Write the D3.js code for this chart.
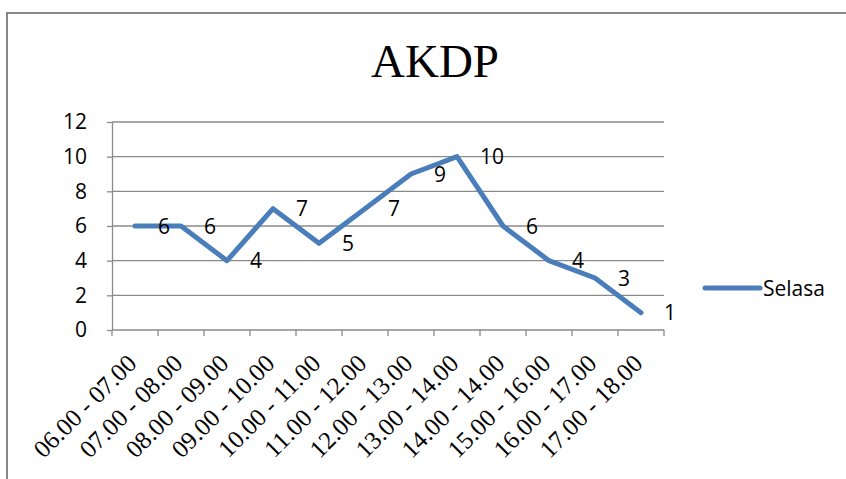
<!DOCTYPE html>
<html>
<head>
<meta charset="utf-8">
<script src="https://cdn.jsdelivr.net/npm/d3@7"></script>
<style>
  html, body { margin: 0; padding: 0; background: #fff; }
  svg { display: block; }
</style>
</head>
<body>
<svg id="chart" width="846" height="479"></svg>
<script>
// Hourly counts for the AKDP series (Selasa)
const categories = [
  "06.00 - 07.00", "07.00 - 08.00", "08.00 - 09.00", "09.00 - 10.00",
  "10.00 - 11.00", "11.00 - 12.00", "12.00 - 13.00", "13.00 - 14.00",
  "14.00 - 14.00", "15.00 - 16.00", "16.00 - 17.00", "17.00 - 18.00"
];
const seriesName = "Selasa";
const values = [6, 6, 4, 7, 5, 7, 9, 10, 6, 4, 3, 1];
const yTicks = [0, 2, 4, 6, 8, 10, 12];
const title = "AKDP";

const svg = d3.select("#chart");
const plot = { left: 112, right: 664, top: 122, bottom: 330 };
const lineColor = "#4a7ebb";
const gridColor = "#8a8a8a";
const sansFont = "'Open Sans', 'Noto Sans', sans-serif";
const serifFont = "'Liberation Serif', 'DejaVu Serif', serif";

// Outer frame of the chart area
svg.append("rect")
  .attr("x", 7).attr("y", 13)
  .attr("width", 900).attr("height", 600)
  .attr("fill", "none")
  .attr("stroke", "#878787")
  .attr("stroke-width", 2);

// Title
svg.append("text")
  .attr("x", 435).attr("y", 77)
  .attr("text-anchor", "middle")
  .attr("font-family", serifFont)
  .attr("font-size", 47)
  .attr("fill", "#000")
  .text(title);

const x = d3.scaleBand().domain(categories).range([plot.left, plot.right]);
const y = d3.scaleLinear().domain([0, 12]).range([plot.bottom, plot.top]);

// Horizontal gridlines
svg.append("g")
  .selectAll("line")
  .data(yTicks.filter(t => t > 0))
  .join("line")
  .attr("x1", plot.left).attr("x2", plot.right)
  .attr("y1", d => y(d)).attr("y2", d => y(d))
  .attr("stroke", gridColor)
  .attr("stroke-width", 1.3);

// Y axis
const yAxis = svg.append("g")
  .attr("transform", `translate(${plot.left},0)`)
  .call(d3.axisLeft(y).tickValues(yTicks).tickSize(5).tickPadding(20).tickSizeOuter(0));
yAxis.select(".domain").attr("stroke", gridColor).attr("stroke-width", 1.3);
yAxis.selectAll(".tick line").attr("stroke", gridColor).attr("stroke-width", 1.3);
yAxis.selectAll(".tick text")
  .attr("font-family", sansFont)
  .attr("font-size", 21)
  .attr("fill", "#000");

// X axis: tick marks sit on the band boundaries
const xAxis = svg.append("g")
  .attr("transform", `translate(0,${plot.bottom})`);
xAxis.append("line")
  .attr("x1", plot.left).attr("x2", plot.right)
  .attr("y1", 0).attr("y2", 0)
  .attr("stroke", gridColor).attr("stroke-width", 1.3);
const boundaries = categories.map(c => x(c)).concat([x(categories[categories.length - 1]) + x.bandwidth()]);
xAxis.selectAll("line.tk")
  .data(boundaries)
  .join("line")
  .attr("class", "tk")
  .attr("x1", d => d).attr("x2", d => d)
  .attr("y1", 0).attr("y2", 6)
  .attr("stroke", gridColor).attr("stroke-width", 1.3);

// Rotated category labels
xAxis.selectAll("text.cat")
  .data(categories)
  .join("text")
  .attr("class", "cat")
  .attr("transform", d => `translate(${x(d) + x.bandwidth() / 2 + 3},35) rotate(-45)`)
  .attr("text-anchor", "end")
  .style("font-family", serifFont)
  .attr("font-size", 25)
  .attr("fill", "#000")
  .text(d => d);

// Series line
const cx = (d, i) => x(categories[i]) + x.bandwidth() / 2;
const line = d3.line().x(cx).y(d => y(d));
svg.append("path")
  .datum(values)
  .attr("d", line)
  .attr("fill", "none")
  .attr("stroke", lineColor)
  .attr("stroke-width", 5)
  .attr("stroke-linejoin", "round")
  .attr("stroke-linecap", "round");

// Value labels to the right of each point
svg.append("g")
  .selectAll("text")
  .data(values)
  .join("text")
  .attr("x", (d, i) => cx(d, i) + 23)
  .attr("y", d => y(d))
  .attr("dy", "0.36em")
  .attr("font-family", sansFont)
  .attr("font-size", 21)
  .attr("fill", "#000")
  .text(d => d);

// Legend
const legend = svg.append("g").attr("transform", "translate(705,288)");
legend.append("line")
  .attr("x1", 0).attr("x2", 55)
  .attr("y1", 0).attr("y2", 0)
  .attr("stroke", lineColor)
  .attr("stroke-width", 5)
  .attr("stroke-linecap", "round");
legend.append("text")
  .attr("x", 58).attr("y", 0)
  .attr("dy", "0.36em")
  .attr("font-family", sansFont)
  .attr("font-size", 21)
  .attr("fill", "#000")
  .text(seriesName);
</script>
</body>
</html>
